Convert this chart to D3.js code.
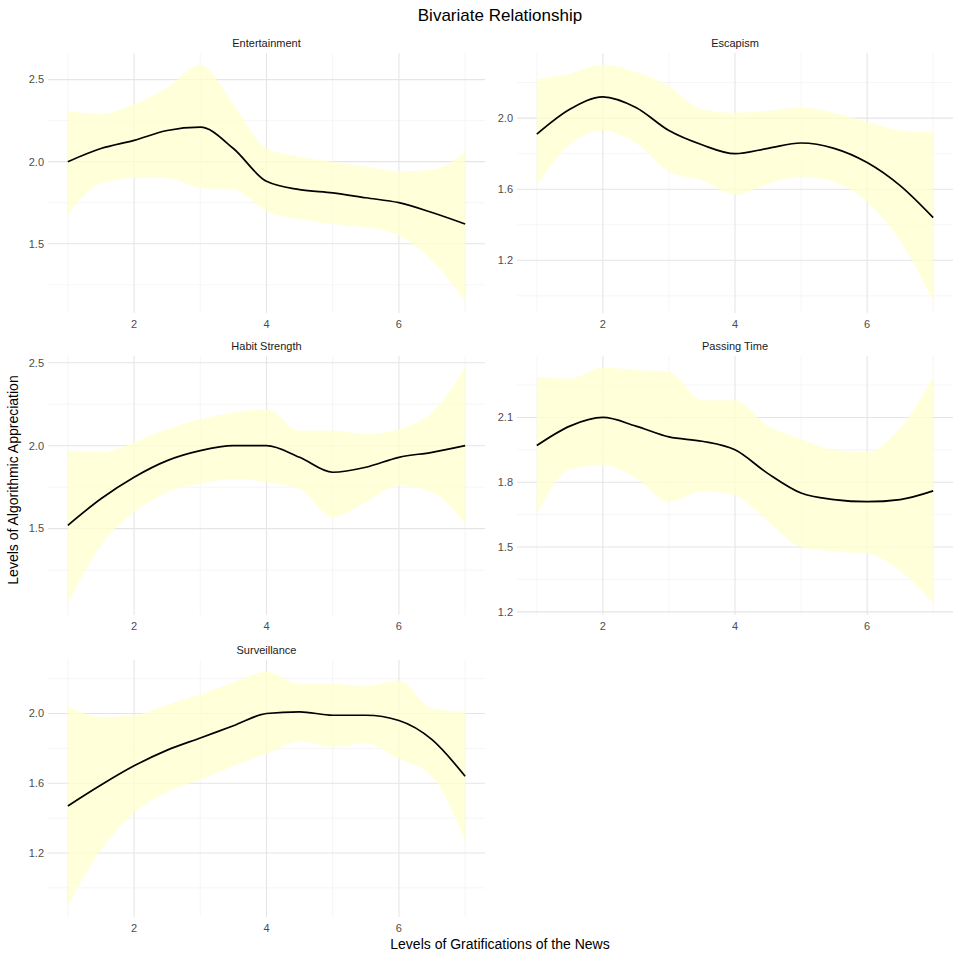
<!DOCTYPE html>
<html><head><meta charset="utf-8">
<script src="https://cdn.jsdelivr.net/npm/d3@7"></script>
<style>body{margin:0;background:#fff}text{font-family:"Liberation Sans",Arial,sans-serif}</style>
</head><body><svg id="c" width="960" height="960"></svg>
<script>
const xs = [1,1.5,2,2.5,3,3.5,4,4.5,5,5.5,6,6.5,7];
const panelNames = ["Entertainment","Escapism","Habit Strength","Passing Time","Surveillance"];
const entFit = [2.0,2.08,2.13,2.19,2.21,2.08,1.88,1.83,1.81,1.78,1.75,1.69,1.62];
const entHi  = [2.31,2.29,2.35,2.45,2.59,2.35,2.08,2.03,2.0,1.97,1.94,1.95,2.06];
const entLo  = [1.68,1.87,1.90,1.90,1.84,1.83,1.70,1.65,1.62,1.60,1.55,1.40,1.15];
const escFit = [1.91,2.05,2.12,2.06,1.93,1.85,1.80,1.83,1.86,1.83,1.75,1.62,1.44];
const escHi  = [2.22,2.25,2.30,2.26,2.18,2.05,2.03,2.04,2.06,2.03,1.98,1.93,1.92];
const escLo  = [1.62,1.85,1.93,1.86,1.70,1.65,1.57,1.63,1.67,1.64,1.53,1.31,0.97];
const habFit = [1.52,1.68,1.81,1.91,1.97,2.00,2.00,1.93,1.84,1.87,1.93,1.96,2.0];
const habHi  = [1.97,1.96,2.02,2.10,2.16,2.20,2.22,2.09,2.09,2.07,2.10,2.20,2.47];
const habLo  = [1.05,1.40,1.60,1.72,1.77,1.80,1.78,1.74,1.57,1.66,1.76,1.72,1.53];
const pasFit = [1.97,2.06,2.10,2.06,2.01,1.99,1.95,1.84,1.75,1.72,1.71,1.72,1.76];
const pasHi  = [2.29,2.28,2.33,2.32,2.31,2.18,2.18,2.06,2.0,1.95,1.94,2.05,2.29];
const pasLo  = [1.65,1.86,1.88,1.82,1.71,1.76,1.74,1.62,1.50,1.48,1.47,1.39,1.24];
const surFit = [1.47,1.59,1.70,1.79,1.86,1.93,2.00,2.01,1.99,1.99,1.96,1.85,1.64];
const surHi  = [2.04,1.98,1.99,2.05,2.11,2.18,2.24,2.17,2.17,2.16,2.19,2.03,2.01];
const surLo  = [0.90,1.22,1.43,1.55,1.62,1.70,1.77,1.84,1.81,1.83,1.74,1.64,1.27];
const xTicks = [2,4,6];
const yTicks = [[1.5,2.0,2.5],[1.2,1.6,2.0],[1.5,2.0,2.5],[1.2,1.5,1.8,2.1],[1.2,1.6,2.0]];
const fits=[entFit,escFit,habFit,pasFit,surFit], his=[entHi,escHi,habHi,pasHi,surHi], los=[entLo,escLo,habLo,pasLo,surLo];

const svg=d3.select("#c");
const cols=[[48,485],[517,953]], rows=[[53,313],[356,615],[660,917]];
panelNames.forEach((name,i)=>{
  const c=cols[i%2], r=rows[Math.floor(i/2)];
  const lo=d3.min(los[i]), hi=d3.max(his[i]), pad=(hi-lo)*0.05;
  const x=d3.scaleLinear().domain([0.7,7.3]).range(c);
  const y=d3.scaleLinear().domain([lo-pad,hi+pad]).range([r[1],r[0]]);
  const g=svg.append("g");
  const yt=yTicks[i], step=yt[1]-yt[0];
  const minorY=[]; for(let v=yt[0]-step/2; v<=hi+pad; v+=step) if(v>=lo-pad) minorY.push(v);
  minorY.forEach(v=>g.append("line").attr("x1",c[0]).attr("x2",c[1]).attr("y1",y(v)).attr("y2",y(v)).attr("stroke","#f0f0f0").attr("stroke-width",0.6));
  [1,3,5,7].forEach(v=>g.append("line").attr("x1",x(v)).attr("x2",x(v)).attr("y1",r[0]).attr("y2",r[1]).attr("stroke","#f0f0f0").attr("stroke-width",0.6));
  yt.forEach(v=>{g.append("line").attr("x1",c[0]).attr("x2",c[1]).attr("y1",y(v)).attr("y2",y(v)).attr("stroke","#e5e5e5").attr("stroke-width",1.1);
    g.append("text").attr("x",c[0]-4).attr("y",y(v)).attr("dy","0.35em").attr("text-anchor","end").attr("font-size",11).attr("fill","#4d4d4d").text(v.toFixed(1));});
  xTicks.forEach(v=>{g.append("line").attr("x1",x(v)).attr("x2",x(v)).attr("y1",r[0]).attr("y2",r[1]).attr("stroke","#e5e5e5").attr("stroke-width",1.1);
    g.append("text").attr("x",x(v)).attr("y",r[1]+15).attr("text-anchor","middle").attr("font-size",11).attr("fill","#4d4d4d").text(v);});
  const pts=xs.map((v,j)=>({x:v,f:fits[i][j],h:his[i][j],l:los[i][j]}));
  g.append("path").datum(pts).attr("fill","#ffffcc").attr("opacity",0.75)
    .attr("d",d3.area().curve(d3.curveMonotoneX).x(d=>x(d.x)).y0(d=>y(d.l)).y1(d=>y(d.h)));
  g.append("path").datum(pts).attr("fill","none").attr("stroke","#000").attr("stroke-width",1.7)
    .attr("d",d3.line().curve(d3.curveMonotoneX).x(d=>x(d.x)).y(d=>y(d.f)));
  g.append("text").attr("x",(c[0]+c[1])/2).attr("y",r[0]-6).attr("text-anchor","middle").attr("font-size",11).attr("fill","#1a1a1a").text(name);
});
svg.append("text").attr("x",500).attr("y",21).attr("text-anchor","middle").attr("font-size",17).text("Bivariate Relationship");
svg.append("text").attr("x",500).attr("y",949).attr("text-anchor","middle").attr("font-size",14).text("Levels of Gratifications of the News");
svg.append("text").attr("transform","translate(18,480) rotate(-90)").attr("text-anchor","middle").attr("font-size",14).text("Levels of Algorithmic Appreciation");
</script></body></html>
